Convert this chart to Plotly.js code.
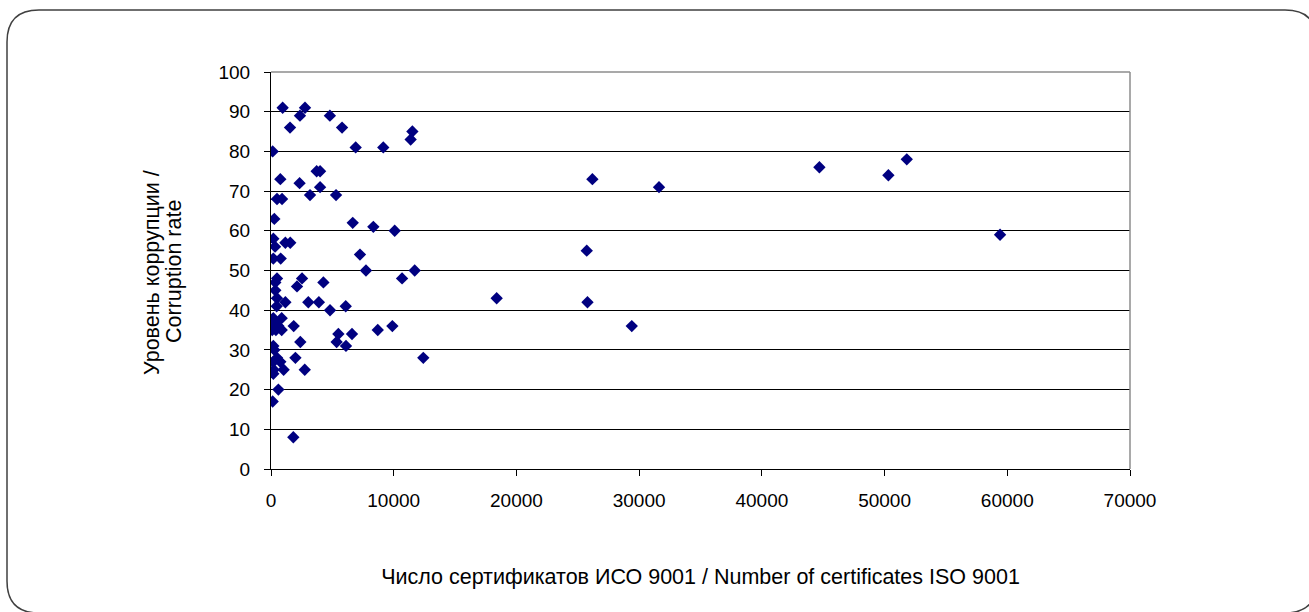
<!DOCTYPE html>
<html>
<head>
<meta charset="utf-8">
<script src="https://cdn.plot.ly/plotly-3.0.1.min.js"></script>
<style>
html,body{margin:0;padding:0;background:#fff;overflow:hidden;}
#chart{width:1309px;height:612px;}
</style>
</head>
<body>
<div id="chart"></div>
<script>
// Number of ISO 9001 certificates (x) and corruption rate (y)
const certificates = [
  950, 2770, 2360, 4800, 1550, 5790, 11520, 11380, 135, 6900,
  9150, 3720, 4000, 760, 2330, 4000, 3180, 5300, 490, 900,
  270, 6660, 8340, 10080, 190, 330, 1170, 1570, 190, 790,
  7250, 7740, 11710, 10680, 4270, 2530, 2120, 490, 350, 350,
  490, 460, 1170, 3040, 3900, 4810, 6090, 190, 870, 300,
  120, 600, 100, 870, 400, 1850, 5490, 6600, 8700, 9890,
  2390, 5350, 6110, 190, 270, 490, 190, 760, 12410, 1990,
  220, 1030, 2750, 190, 600, 135, 1820,
  26190, 31620, 25730, 18390, 25790, 29400, 44690, 50310, 51810, 59410
];
const corruption = [
  91, 91, 89, 89, 86, 86, 85, 83, 80, 81,
  81, 75, 75, 73, 72, 71, 69, 69, 68, 68,
  63, 62, 61, 60, 58, 56, 57, 57, 53, 53,
  54, 50, 50, 48, 47, 48, 46, 48, 47, 45,
  43, 41, 42, 42, 42, 40, 41, 38, 38, 37,
  36, 36, 35, 35, 35, 36, 34, 34, 35, 36,
  32, 32, 31, 31, 30, 28, 27, 27, 28, 28,
  25, 25, 25, 24, 20, 17, 8,
  73, 71, 55, 43, 42, 36, 76, 74, 78, 59
];
const xTitle = 'Число сертификатов ИСО 9001 / Number of certificates ISO 9001';
const yTitleLines = ['Уровень коррупции /', 'Corruption rate'];

const FONT = 'Liberation Sans, Arial, sans-serif';
const TICK_SIZE = 19;
const TITLE_SIZE = 21.5;

// pixel geometry -> paper coords
const W = 1309, H = 612, ML = 271, MR = 179, MT = 72, MB = 143;
const PW = W - ML - MR, PH = H - MT - MB;
const px = v => (v - ML) / PW;
const py = v => (H - MB - v) / PH;
function roundRect(l, t, r, b, rad) {
  return 'M ' + px(l + rad) + ',' + py(t) +
    ' L ' + px(r - rad) + ',' + py(t) +
    ' Q ' + px(r) + ',' + py(t) + ' ' + px(r) + ',' + py(t + rad) +
    ' L ' + px(r) + ',' + py(b - rad) +
    ' Q ' + px(r) + ',' + py(b) + ' ' + px(r - rad) + ',' + py(b) +
    ' L ' + px(l + rad) + ',' + py(b) +
    ' Q ' + px(l) + ',' + py(b) + ' ' + px(l) + ',' + py(b - rad) +
    ' L ' + px(l) + ',' + py(t + rad) +
    ' Q ' + px(l) + ',' + py(t) + ' ' + px(l + rad) + ',' + py(t) + ' Z';
}

const trace = {
  type: 'scatter',
  mode: 'markers',
  x: certificates,
  y: corruption,
  marker: {symbol: 'diamond', size: 9.5, color: '#000080', line: {width: 0}},
  hoverinfo: 'x+y'
};

const titleFont = {family: FONT, size: TITLE_SIZE, color: '#000'};

const layout = {
  width: W, height: H,
  margin: {l: ML, r: MR, t: MT, b: MB, pad: 0},
  paper_bgcolor: '#ffffff',
  plot_bgcolor: '#ffffff',
  showlegend: false,
  font: {family: FONT, size: TICK_SIZE, color: '#000'},
  xaxis: {
    range: [0, 70000], tick0: 0, dtick: 10000, tickformat: 'd',
    showgrid: false, zeroline: false,
    showline: true, linecolor: '#000', linewidth: 1,
    ticks: 'outside', ticklen: 6, tickcolor: '#000', tickwidth: 1,
    ticklabelstandoff: 8,
    tickfont: {family: FONT, size: TICK_SIZE, color: '#000'},
    title: {text: xTitle, font: titleFont, standoff: 59}
  },
  yaxis: {
    range: [0, 100], tick0: 0, dtick: 10,
    showgrid: true, gridcolor: '#000', gridwidth: 1, zeroline: false,
    showline: true, linecolor: '#000', linewidth: 1,
    ticks: 'outside', ticklen: 6, tickcolor: '#000', tickwidth: 1,
    ticklabelstandoff: 10,
    tickfont: {family: FONT, size: TICK_SIZE, color: '#000'}
  },
  annotations: [
    {text: yTitleLines[0], textangle: -90, xref: 'paper', yref: 'paper',
     x: px(152), y: py(273), xanchor: 'center', yanchor: 'middle',
     showarrow: false, font: titleFont},
    {text: yTitleLines[1], textangle: -90, xref: 'paper', yref: 'paper',
     x: px(174), y: py(272), xanchor: 'center', yanchor: 'middle',
     showarrow: false, font: titleFont}
  ],
  shapes: [
    {type: 'line', xref: 'paper', yref: 'paper', x0: 0, x1: 1, y0: 1, y1: 1,
     line: {color: '#8c8c8c', width: 1.5}, layer: 'above'},
    {type: 'line', xref: 'paper', yref: 'paper', x0: 1, x1: 1, y0: 0, y1: 1,
     line: {color: '#8c8c8c', width: 1.5}, layer: 'above'},
    {type: 'path', xref: 'paper', yref: 'paper', path: roundRect(7, 10, 1317, 613, 32),
     line: {color: '#404040', width: 1.5}, fillcolor: 'rgba(0,0,0,0)', layer: 'above'}
  ]
};

Plotly.newPlot('chart', [trace], layout, {staticPlot: true, displayModeBar: false});
</script>
</body>
</html>
